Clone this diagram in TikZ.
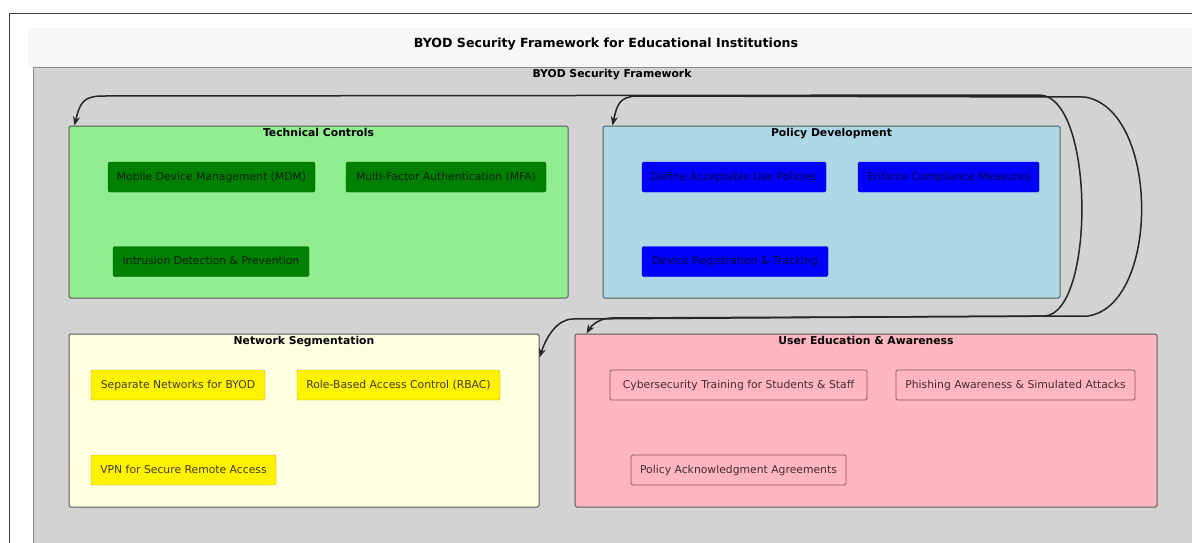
\documentclass[tikz,border=0pt]{standalone}
\usepackage{fontspec}
\setmainfont{DejaVu Sans}
\usetikzlibrary{positioning,arrows.meta}

\definecolor{framegray}{HTML}{D3D3D3}
\definecolor{techbg}{HTML}{90EE90}
\definecolor{policybg}{HTML}{ADD8E6}
\definecolor{netbg}{HTML}{FFFFE0}
\definecolor{edubg}{HTML}{FFB6C1}

\tikzset{
    cluster/.style={draw=black!65, line width=1pt, rounded corners=1.5pt, inner sep=0pt},
    clustertitle/.style={font=\bfseries\fontsize{10.8}{12}\selectfont, inner sep=1pt},
    item/.style={rectangle, rounded corners=1.5pt, minimum height=30pt, inner sep=2pt,
        text height=7.5pt, text depth=1pt,
        font=\fontsize{10.8}{12}\selectfont, text opacity=0.75},
    techitem/.style={item, fill=green!50!black, draw=green!40!black},
    policyitem/.style={item, fill=blue, draw=blue!80!black},
    netitem/.style={item, fill=yellow, draw=yellow!65!black},
    eduitem/.style={item, fill=edubg, draw=black!50!edubg, line width=0.8pt},
    link/.style={line width=1.5pt, black!85, {Stealth[length=9pt,width=7pt]}-{Stealth[length=9pt,width=7pt]}}
}

\begin{document}
\begin{tikzpicture}[x=1pt, y=-1pt]
    \useasboundingbox (0,0) rectangle (1192,542);
    \clip (0,0) rectangle (1192,542);
    \fill[white] (0,0) rectangle (1192,542);
    \draw[black!75, line width=1pt] (9,13) rectangle (1210,560);
    \fill[black!3] (28,28) rectangle (1200,67);
    \node[font=\bfseries\fontsize{12.6}{14}\selectfont] (maintitle) at (606,44) {BYOD Security Framework for Educational Institutions};

    % framework
    \fill[framegray, draw=black!45, line width=1pt] (33,67) rectangle (1210,560);
    \node[clustertitle] (fwtitle) at (612,75) {BYOD Security Framework};

    % clusters
    \node[cluster, fill=techbg, minimum width=499pt, minimum height=172pt] (tech) at (318.5,212) {};
    \node[clustertitle, below=2pt of tech.north] (techtitle) {Technical Controls};
    \node[cluster, fill=policybg, minimum width=457pt, minimum height=172pt] (policy) at (831.5,212) {};
    \node[clustertitle, below=2pt of policy.north] (policytitle) {Policy Development};
    \node[cluster, fill=netbg, minimum width=470pt, minimum height=173pt] (netseg) at (304,420.5) {};
    \node[clustertitle, below=2pt of netseg.north] (netsegtitle) {Network Segmentation};
    \node[cluster, fill=edubg, minimum width=582pt, minimum height=173pt] (usered) at (866,420.5) {};
    \node[clustertitle, below=2pt of usered.north] (useredtitle) {User Education \& Awareness};

    % technical controls
    \node[techitem, minimum width=207pt] (mdm) at (211.5,177) {Mobile Device Management (MDM)};
    \node[techitem, minimum width=200pt] (mfa) at (446,177) {Multi-Factor Authentication (MFA)};
    \node[techitem, minimum width=196pt] (ids) at (211,261.5) {Intrusion Detection \& Prevention};

    % policy development
    \node[policyitem, minimum width=184pt] (aup) at (734,177) {Define Acceptable Use Policies};
    \node[policyitem, minimum width=181pt] (comp) at (948.5,177) {Enforce Compliance Measures};
    \node[policyitem, minimum width=186pt] (reg) at (735,261.5) {Device Registration \& Tracking};

    % network segmentation
    \node[netitem, minimum width=174pt] (sepnet) at (178,385) {Separate Networks for BYOD};
    \node[netitem, minimum width=203pt] (rbac) at (398.5,385) {Role-Based Access Control (RBAC)};
    \node[netitem, minimum width=185pt] (vpn) at (183.5,470) {VPN for Secure Remote Access};

    % user education
    \node[eduitem, minimum width=257pt] (train) at (738.5,385) {Cybersecurity Training for Students \& Staff};
    \node[eduitem, minimum width=239pt] (phish) at (1015.5,385) {Phishing Awareness \& Simulated Attacks};
    \node[eduitem, minimum width=215pt] (ack) at (738.5,470) {Policy Acknowledgment Agreements};

    % links between clusters
    \draw[link] ([xshift=6pt]tech.north west) .. controls (80,102) and (84,97) .. (100,96)
        -- (1040,95) .. controls (1095,98) and (1095,312) .. (1045,316)
        -- (572,319) .. controls (556,320) and (546,338) .. ([yshift=-24pt]netseg.north east);
    \draw[link] ([xshift=10pt]policy.north west) .. controls (617,104) and (620,97) .. (636,96)
        -- (1085,97) .. controls (1160,110) and (1160,305) .. (1088,316)
        -- (610,318) .. controls (598,319) and (591,326) .. ([xshift=12pt]usered.north west);
\end{tikzpicture}
\end{document}
